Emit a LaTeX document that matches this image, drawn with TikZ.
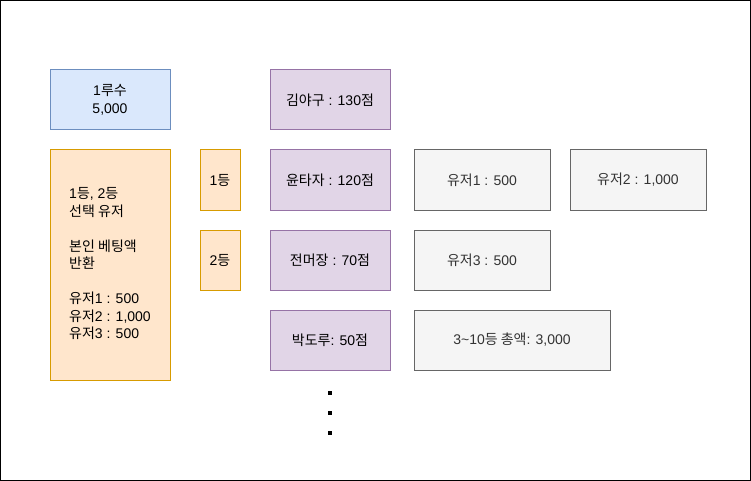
\documentclass[tikz,border=0pt]{standalone}
\usepackage{fontspec}
\setmainfont{Liberation Sans}
\newfontfamily\kr{Noto Sans CJK KR}
\definecolor{bluefill}{HTML}{DAE8FC}
\definecolor{bluedraw}{HTML}{6C8EBF}
\definecolor{orfill}{HTML}{FFE6CC}
\definecolor{ordraw}{HTML}{D79B00}
\definecolor{pufill}{HTML}{E1D5E7}
\definecolor{pudraw}{HTML}{9673A6}
\definecolor{grfill}{HTML}{F5F5F5}
\definecolor{grdraw}{HTML}{666666}
\definecolor{grtext}{HTML}{333333}
\begin{document}
\begin{tikzpicture}[x=1pt,y=-1pt,
  box/.style={draw, line width=1pt, inner sep=0pt, font=\fontsize{14}{17.5}\selectfont},
  bluebox/.style={box, fill=bluefill, draw=bluedraw},
  orbox/.style={box, fill=orfill, draw=ordraw},
  pubox/.style={box, fill=pufill, draw=pudraw},
  grbox/.style={box, fill=grfill, draw=grdraw, text=grtext},
  dot/.style={fill=black, draw=none, minimum size=4.5pt, inner sep=0pt}
]
\useasboundingbox (0,0) rectangle (751,481);
\draw[line width=1pt] (0.5,0.5) rectangle (750.5,480.5);

\node[bluebox, minimum width=120pt, minimum height=60pt, align=center] (lead) at (110,100) {1{\kr 루수}\\5,000};
\node[orbox, minimum width=120pt, minimum height=230pt] (ret) at (110,265) {%
  \begin{tabular}{@{}l@{}}1{\kr 등}, 2{\kr 등}\\{\kr 선택 유저}\\[17.5pt]{\kr 본인 베팅액}\\{\kr 반환}\\[17.5pt]{\kr 유저}1 : 500\\{\kr 유저}2 : 1,000\\{\kr 유저}3 : 500\end{tabular}};

\node[orbox, minimum width=40pt, minimum height=60pt] (r1) at (220,180) {1{\kr 등}};
\node[orbox, minimum width=40pt, minimum height=60pt] (r2) at (220,260) {2{\kr 등}};

\node[pubox, minimum width=120pt, minimum height=60pt] (p1) at (330,100) {{\kr 김야구} : 130{\kr 점}};
\node[pubox, minimum width=120pt, minimum height=60pt] (p2) at (330,180) {{\kr 윤타자} : 120{\kr 점}};
\node[pubox, minimum width=120pt, minimum height=60pt] (p3) at (330,260) {{\kr 전머장} : 70{\kr 점}};
\node[pubox, minimum width=120pt, minimum height=60pt] (p4) at (330,340) {{\kr 박도루}: 50{\kr 점}};

\node[grbox, minimum width=136pt, minimum height=60pt] (u1) at (482,180) {{\kr 유저}1 : 500};
\node[grbox, minimum width=136pt, minimum height=60pt] (u2) at (638,180) {{\kr 유저}2 : 1,000};
\node[grbox, minimum width=136pt, minimum height=60pt] (u3) at (482,260) {{\kr 유저}3 : 500};
\node[grbox, minimum width=196pt, minimum height=60pt] (tot) at (512,340) {3\textasciitilde10{\kr 등 총액}: 3,000};

\node[dot] (d1) at (330,393) {};
\node[dot] (d2) at (330,413) {};
\node[dot] (d3) at (330,433) {};
\end{tikzpicture}
\end{document}
